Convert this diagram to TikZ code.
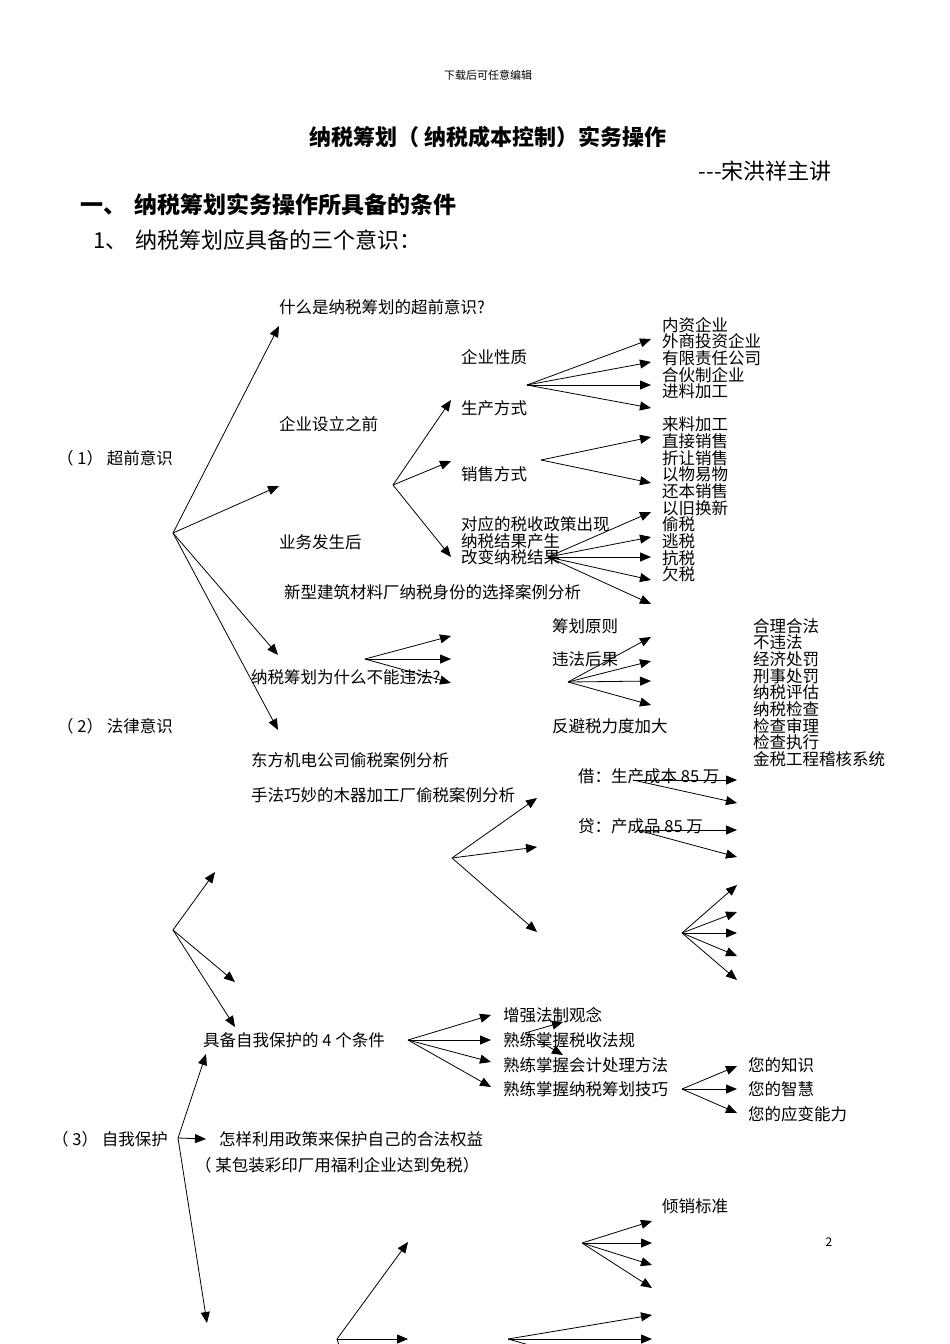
\documentclass[tikz,border=0pt]{standalone}
\usepackage{fontspec}
\setmainfont{Noto Sans CJK SC}
\usetikzlibrary{arrows.meta}

\newcommand{\dfont}{\fontsize{16.5}{16.67}\selectfont}

\tikzstyle{txt} = [anchor=west, inner sep=0pt, font=\dfont, align=left]
\tikzstyle{arr} = [-{Triangle[length=11pt,width=9pt]}, line width=0.8pt]

\begin{document}
\begin{tikzpicture}[x=1pt, y=-1pt]
	\useasboundingbox (0,0) rectangle (950,1344);
	\clip (0,0) rectangle (950,1344);

	\node[inner sep=0pt, font=\fontsize{11}{11}\selectfont] (hdr) at (488,75) {下载后可任意编辑};
	\node[inner sep=0pt, font=\fontsize{22}{22}\selectfont\bfseries] (title) at (488,137) {纳税筹划（ 纳税成本控制）实务操作};
	\node[inner sep=0pt, anchor=east, font=\fontsize{22}{22}\selectfont] (auth) at (832,171) {-{}-{}-宋洪祥主讲};
	\node[inner sep=0pt, anchor=west, font=\fontsize{23}{23}\selectfont\bfseries] (sec) at (80,205) {一、\hspace{8pt}纳税筹划实务操作所具备的条件};
	\node[inner sep=0pt, anchor=west, font=\fontsize{22}{22}\selectfont] (sub) at (93,240) {1、\hspace{8pt}纳税筹划应具备的三个意识：};
	\node[inner sep=0pt, font=\fontsize{12}{12}\selectfont] (pg) at (829,1242) {2};

	\node[txt] (q1) at (57,458) {（ 1） 超前意识};
	\node[txt] (what) at (279,307) {什么是纳税筹划的超前意识?};
	\node[txt] (before) at (279,424) {企业设立之前};
	\node[txt] (after) at (279,542) {业务发生后};
	\node[txt] (case1) at (284,592) {新型建筑材料厂纳税身份的选择案例分析};
	\node[txt] (nature) at (461,357) {企业性质};
	\node[txt] (prod) at (461,408) {生产方式};
	\node[txt] (sale) at (461,474) {销售方式};
	\node[txt] (result) at (461,541) {对应的税收政策出现\\纳税结果产生\\改变纳税结果};
	\node[txt] (kinds) at (662,358) {内资企业\\外商投资企业\\有限责任公司\\合伙制企业\\进料加工};
	\node[txt] (ways) at (662,499.5) {来料加工\\直接销售\\折让销售\\以物易物\\还本销售\\以旧换新\\偷税\\逃税\\抗税\\欠税};

	\node[txt] (q2) at (57,726) {（ 2） 法律意识};
	\node[txt] (why) at (251,677) {纳税筹划为什么不能违法?};
	\node[txt] (rule) at (552,626) {筹划原则};
	\node[txt] (cons) at (552,659) {违法后果};
	\node[txt] (anti) at (552,726) {反避税力度加大};
	\node[txt] (legal) at (753,692.5) {合理合法\\不违法\\经济处罚\\刑事处罚\\纳税评估\\纳税检查\\检查审理\\检查执行\\金税工程稽核系统};
	\node[txt] (case2) at (251,760) {东方机电公司偷税案例分析};
	\node[txt] (case3) at (251,795) {手法巧妙的木器加工厂偷税案例分析};
	\node[txt] (debit) at (578,776) {借：生产成本 85 万};
	\node[txt] (credit) at (578,826) {贷：产成品 85 万};

	\node[txt] (cond) at (203,1040) {具备自我保护的 4 个条件};
	\node[txt] (c1) at (503,1015) {增强法制观念};
	\node[txt] (c2) at (503,1040) {熟练掌握税收法规};
	\node[txt] (c3) at (503,1065) {熟练掌握会计处理方法};
	\node[txt] (c4) at (503,1089) {熟练掌握纳税筹划技巧};
	\node[txt] (you1) at (748,1065) {您的知识};
	\node[txt] (you2) at (748,1089) {您的智慧};
	\node[txt] (you3) at (748,1114) {您的应变能力};
	\node[txt] (q3) at (52,1139) {（ 3） 自我保护};
	\node[txt] (policy) at (219,1139) {怎样利用政策来保护自己的合法权益};
	\node[txt] (case4) at (195,1165) {（ 某包装彩印厂用福利企业达到免税）};
	\node[txt] (dump) at (662,1206) {倾销标准};

	\coordinate (h1) at (173,533);
	\coordinate (h1a) at (279,326); \coordinate (h1b) at (279,486);
	\coordinate (h1c) at (278,655); \coordinate (h1d) at (278,730);
	\draw (h1) edge[arr] (h1a) edge[arr] (h1b) edge[arr] (h1c) edge[arr] (h1d);

	\coordinate (h2) at (393,485);
	\coordinate (h2a) at (451,400); \coordinate (h2b) at (451,461); \coordinate (h2c) at (451,557);
	\draw (h2) edge[arr] (h2a) edge[arr] (h2b) edge[arr] (h2c);

	\coordinate (h3) at (527,385);
	\coordinate (h3a) at (651,339); \coordinate (h3b) at (651,362);
	\coordinate (h3c) at (651,385); \coordinate (h3d) at (651,408);
	\draw (h3) edge[arr] (h3a) edge[arr] (h3b) edge[arr] (h3c) edge[arr] (h3d);

	\coordinate (h4) at (541,460);
	\coordinate (h4a) at (651,437); \coordinate (h4b) at (651,483);
	\draw (h4) edge[arr] (h4a) edge[arr] (h4b);

	\coordinate (h5) at (548,557);
	\coordinate (h5a) at (651,512); \coordinate (h5b) at (651,537); \coordinate (h5c) at (651,557);
	\coordinate (h5d) at (651,580); \coordinate (h5e) at (651,604);
	\draw (h5) edge[arr] (h5a) edge[arr] (h5b) edge[arr] (h5c) edge[arr] (h5d) edge[arr] (h5e);

	\coordinate (h6) at (365,659);
	\coordinate (h6a) at (451,636); \coordinate (h6b) at (451,659); \coordinate (h6c) at (451,683);
	\draw (h6) edge[arr] (h6a) edge[arr] (h6b) edge[arr] (h6c);

	\coordinate (h7) at (568,682);
	\coordinate (h7a) at (651,637); \coordinate (h7b) at (651,661);
	\coordinate (h7c) at (651,681); \coordinate (h7d) at (651,705);
	\draw (h7) edge[arr] (h7a) edge[arr] (h7b) edge[arr] (h7c) edge[arr] (h7d);

	\coordinate (h8) at (452,858);
	\coordinate (h8a) at (537,798); \coordinate (h8b) at (537,847); \coordinate (h8c) at (537,932);
	\draw (h8) edge[arr] (h8a) edge[arr] (h8b) edge[arr] (h8c);

	\coordinate (h9) at (633,780);
	\coordinate (h9a) at (737,780); \coordinate (h9b) at (737,803);
	\draw (h9) edge[arr] (h9a) edge[arr] (h9b);

	\coordinate (h10) at (637,830);
	\coordinate (h10a) at (737,830); \coordinate (h10b) at (737,857);
	\draw (h10) edge[arr] (h10a) edge[arr] (h10b);

	\coordinate (h11) at (682,933);
	\coordinate (h11a) at (737,885); \coordinate (h11b) at (737,912); \coordinate (h11c) at (737,933);
	\coordinate (h11d) at (737,956); \coordinate (h11e) at (737,980);
	\draw (h11) edge[arr] (h11a) edge[arr] (h11b) edge[arr] (h11c) edge[arr] (h11d) edge[arr] (h11e);

	\coordinate (h12) at (173,930);
	\coordinate (h12a) at (215,872); \coordinate (h12b) at (235,982); \coordinate (h12c) at (235,1027);
	\draw (h12) edge[arr] (h12a) edge[arr] (h12b) edge[arr] (h12c);

	\coordinate (h13) at (408,1040);
	\coordinate (h13a) at (491,1015); \coordinate (h13b) at (491,1040);
	\coordinate (h13c) at (491,1062); \coordinate (h13d) at (491,1087);
	\draw (h13) edge[arr] (h13a) edge[arr] (h13b) edge[arr] (h13c) edge[arr] (h13d);

	\coordinate (h14) at (525,1033);
	\coordinate (h14a) at (563,1022); \coordinate (h14b) at (563,1055);
	\draw (h14) edge[arr] (h14a) edge[arr] (h14b);

	\coordinate (h15) at (682,1089);
	\coordinate (h15a) at (737,1066); \coordinate (h15b) at (737,1089); \coordinate (h15c) at (737,1113);
	\draw (h15) edge[arr] (h15a) edge[arr] (h15b) edge[arr] (h15c);

	\coordinate (h16) at (178,1138);
	\coordinate (h16a) at (206,1054); \coordinate (h16b) at (206,1139); \coordinate (h16c) at (207,1323);
	\draw (h16) edge[arr] (h16a) edge[arr] (h16b) edge[arr] (h16c);

	\coordinate (h17) at (582,1243);
	\coordinate (h17a) at (652,1221); \coordinate (h17b) at (652,1243);
	\coordinate (h17c) at (652,1265); \coordinate (h17d) at (652,1288);
	\draw (h17) edge[arr] (h17a) edge[arr] (h17b) edge[arr] (h17c) edge[arr] (h17d);

	\coordinate (h18) at (337,1339);
	\coordinate (h18a) at (408,1242); \coordinate (h18b) at (408,1339); \coordinate (h18c) at (350,1380);
	\draw (h18) edge[arr] (h18a) edge[arr] (h18b) edge[arr] (h18c);

	\coordinate (h19) at (508,1339);
	\coordinate (h19a) at (652,1315); \coordinate (h19b) at (652,1339); \coordinate (h19c) at (652,1380);
	\draw (h19) edge[arr] (h19a) edge[arr] (h19b) edge[arr] (h19c);
\end{tikzpicture}
\end{document}
